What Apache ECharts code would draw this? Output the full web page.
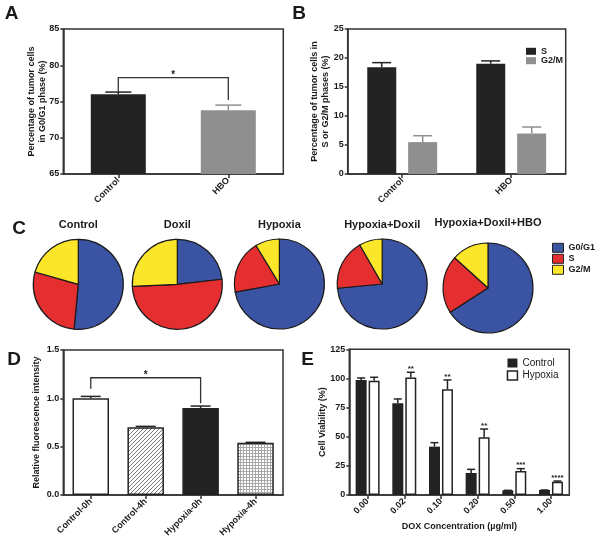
<!DOCTYPE html>
<html><head><meta charset="utf-8">
<script src="https://cdn.jsdelivr.net/npm/echarts@6/dist/echarts.min.js"></script>
<style>html,body{margin:0;padding:0;background:#fff}#c{width:600px;height:542px}</style>
</head><body><div id="c"></div>
<script>
// ---------------- DATA ----------------
const catsA = ['Control', 'HBO'];
const g0g1A = [76.0, 73.8];
const g0g1AErr = [76.3, 74.5];
const sigA = '*';

const catsB = ['Control', 'HBO'];
const sB = [18.4, 19.0];
const sBErr = [19.2, 19.5];
const g2mB = [5.5, 7.0];
const g2mBErr = [6.6, 8.1];

const pieTitles = ['Control', 'Doxil', 'Hypoxia', 'Hypoxia+Doxil', 'Hypoxia+Doxil+HBO'];
const phaseNames = ['G0/G1', 'S', 'G2/M'];
const pieG0G1 = [51.5, 23.2, 72.1, 73.5, 65.9];
const pieS = [27.9, 51.1, 19.2, 18.2, 20.8];
const pieG2M = [20.6, 25.7, 8.7, 8.3, 13.3];

const catsD = ['Control-0h', 'Control-4h', 'Hypoxia-0h', 'Hypoxia-4h'];
const fluorD = [1.00, 0.70, 0.90, 0.54];
const fluorDErr = [1.02, 0.71, 0.92, 0.545];
const sigD = '*';

const catsE = ['0.00', '0.02', '0.10', '0.20', '0.50', '1.00'];
const ctrlE = [98.7, 78.7, 41.5, 18.9, 4.0, 4.3];
const ctrlEErr = [100.4, 82.4, 44.9, 22.0, 4.0, 4.3];
const hypE = [98.1, 100.7, 90.7, 49.5, 20.6, 11.4];
const hypEErr = [101.0, 105.3, 98.7, 56.6, 22.6, 12.0];
const sigE = ['', '**', '**', '**', '***', '****'];

// ---------------- STYLE / LAYOUT ----------------
const FONT = '"Liberation Sans", Arial, Helvetica, sans-serif';
const INK = '#1a1a1a';
const AX = '#333333';
const BLACK = '#232323';
const GREY = '#8f8f8f';
const phaseColors = ['#3b53a3', '#e52e30', '#fbe62a'];
const pieCx = [78.3, 177.3, 279.4, 382.2, 488];
const pieCy = [284.3, 284.3, 284, 284, 288];
const pieTitleY = [225, 225, 225, 225, 223];

function makePattern(kind) {
  const c = document.createElement('canvas');
  const n = kind === 'diag' ? 4 : 3;
  c.width = n; c.height = n;
  const g = c.getContext('2d');
  g.fillStyle = '#ffffff'; g.fillRect(0, 0, n, n);
  if (kind === 'diag') {
    g.strokeStyle = '#666'; g.lineWidth = 0.9;
    g.beginPath();
    g.moveTo(-1, n + 1); g.lineTo(n + 1, -1);
    g.moveTo(-1, 1); g.lineTo(1, -1);
    g.moveTo(n - 1, n + 1); g.lineTo(n + 1, n - 1);
    g.stroke();
  } else {
    g.fillStyle = '#a8a8a8';
    g.fillRect(0, 0, n, 1);
    g.fillRect(0, 0, 1, n);
  }
  return c;
}

const chart = echarts.init(document.getElementById('c'), null, { renderer: 'canvas' });

function gridBox(left, top, width, height) {
  return { left, top, width, height, containLabel: false, show: true, borderColor: AX, borderWidth: 1.5, backgroundColor: 'transparent' };
}
function yAx(gi, min, max, interval, name, nameGap, fmt) {
  return {
    type: 'value', gridIndex: gi, min, max, interval,
    name, nameLocation: 'middle', nameGap, nameRotate: 90, nameMoveOverlap: false,
    nameTextStyle: { fontSize: 9, fontWeight: 'bold', color: INK, lineHeight: 11, fontFamily: FONT },
    axisLine: { show: true, lineStyle: { color: AX, width: 1.5 } },
    axisTick: { show: true, length: 3, lineStyle: { color: AX, width: 1.5 } },
    axisLabel: { fontSize: 9, fontWeight: 'bold', color: INK, margin: 4, fontFamily: FONT, formatter: fmt },
    splitLine: { show: false }
  };
}
function xAx(gi, data, name, nameGap) {
  const a = {
    type: 'category', gridIndex: gi, data,
    axisLine: { show: true, lineStyle: { color: AX, width: 1.5 } },
    axisTick: { show: true, alignWithLabel: true, length: 4, lineStyle: { color: AX, width: 1.5 } },
    axisLabel: { rotate: 45, interval: 0, fontSize: 9, fontWeight: 'bold', color: INK, margin: 5, fontFamily: FONT },
    splitLine: { show: false }
  };
  if (name) {
    a.name = name; a.nameLocation = 'middle'; a.nameGap = nameGap; a.nameMoveOverlap = false;
    a.nameTextStyle = { fontSize: 9, fontWeight: 'bold', color: INK, lineHeight: 11, fontFamily: FONT };
  }
  return a;
}
function errSeries(ai, vals, errs, offset, capW, colors, stars) {
  return {
    type: 'custom', xAxisIndex: ai, yAxisIndex: ai, silent: true, z: 5,
    data: vals.map((v, i) => [i, v, errs[i]]),
    encode: { x: 0, y: [1, 2] },
    renderItem: function (params, api) {
      const i = api.value(0);
      const b = api.coord([i, api.value(1)]);
      const t = api.coord([i, api.value(2)]);
      const cx = b[0] + offset;
      const col = Array.isArray(colors) ? colors[params.dataIndex] : colors;
      const ch = [
        { type: 'line', shape: { x1: cx, y1: b[1], x2: cx, y2: t[1] }, style: { stroke: col, lineWidth: 1.5 } },
        { type: 'line', shape: { x1: cx - capW / 2, y1: t[1], x2: cx + capW / 2, y2: t[1] }, style: { stroke: col, lineWidth: 1.5 } }
      ];
      if (stars && stars[params.dataIndex]) {
        ch.push({ type: 'text', style: { text: stars[params.dataIndex], x: cx, y: t[1] + 0.5, align: 'center', verticalAlign: 'bottom', fontSize: 8, fontWeight: 'bold', fontFamily: FONT, fill: INK } });
      }
      return { type: 'group', children: ch };
    }
  };
}
function bracketSeries(ai, data, star) {
  return {
    type: 'custom', xAxisIndex: ai, yAxisIndex: ai, silent: true, z: 6,
    data: [data], encode: { x: [0, 1], y: [2, 3, 4] },
    renderItem: function (params, api) {
      const l0 = api.coord([api.value(0), api.value(3)]);
      const lt = api.coord([api.value(0), api.value(2)]);
      const rt = api.coord([api.value(1), api.value(2)]);
      const r0 = api.coord([api.value(1), api.value(4)]);
      return { type: 'group', children: [
        { type: 'polyline', shape: { points: [l0, lt, rt, r0] }, style: { stroke: AX, lineWidth: 1.3, fill: null } },
        { type: 'text', style: { text: star, x: (lt[0] + rt[0]) / 2, y: lt[1] + 3, align: 'center', verticalAlign: 'bottom', fontSize: 10, fontWeight: 'bold', fontFamily: FONT, fill: INK } }
      ] };
    }
  };
}

const dStyles = [
  { color: '#ffffff' },
  { color: { image: makePattern('diag'), repeat: 'repeat' } },
  { color: BLACK },
  { color: { image: makePattern('grid'), repeat: 'repeat' } }
];

const series = [];
// A
series.push({ type: 'bar', name: 'A-G0/G1', xAxisIndex: 0, yAxisIndex: 0, barWidth: 55, silent: true,
  data: g0g1A.map((v, i) => ({ value: v, itemStyle: { color: i === 0 ? BLACK : GREY } })) });
series.push(errSeries(0, g0g1A, g0g1AErr, 0, 26, [BLACK, GREY]));
// B
series.push({ type: 'bar', name: 'S', xAxisIndex: 1, yAxisIndex: 1, barWidth: 29, barGap: '41%', itemStyle: { color: BLACK }, data: sB, silent: true });
series.push({ type: 'bar', name: 'G2/M', xAxisIndex: 1, yAxisIndex: 1, barWidth: 29, barGap: '41%', itemStyle: { color: GREY }, data: g2mB, silent: true });
series.push(errSeries(1, sB, sBErr, -20.5, 19, BLACK));
series.push(errSeries(1, g2mB, g2mBErr, 20.5, 19, GREY));
// D
series.push({ type: 'bar', name: 'D-fluor', xAxisIndex: 2, yAxisIndex: 2, barWidth: 36.5, silent: true,
  data: fluorD.map((v, i) => ({ value: v, itemStyle: Object.assign({ borderColor: BLACK, borderWidth: 1.5 }, dStyles[i]) })) });
series.push(errSeries(2, fluorD, fluorDErr, 0, 20, BLACK));
// E
series.push({ type: 'bar', name: 'Control', xAxisIndex: 3, yAxisIndex: 3, barWidth: 11, barGap: '18%', itemStyle: { color: BLACK }, data: ctrlE, silent: true });
series.push({ type: 'bar', name: 'Hypoxia', xAxisIndex: 3, yAxisIndex: 3, barWidth: 11, barGap: '18%', itemStyle: { color: '#ffffff', borderColor: BLACK, borderWidth: 1.5 }, data: hypE, silent: true });
series.push(errSeries(3, ctrlE, ctrlEErr, -6.5, 8, BLACK));
series.push(errSeries(3, hypE, hypEErr, 6.5, 8, BLACK, sigE));
// brackets
series.push(bracketSeries(0, [0, 1, 78.3, 76.35, 75.2], sigA));
series.push(bracketSeries(2, [0, 2, 1.213, 1.10, 0.948], sigD));

// C pies
pieTitles.forEach((t, i) => {
  const vals = [pieG0G1[i], pieS[i], pieG2M[i]];
  series.push({
    type: 'pie', name: 'pie-' + t, center: [pieCx[i], pieCy[i]], radius: 45,
    startAngle: 90, clockwise: true, silent: true,
    label: { show: false }, labelLine: { show: false },
    itemStyle: { borderColor: '#1a1a1a', borderWidth: 1.2 },
    emphasis: { disabled: true },
    data: phaseNames.map((n, j) => ({ name: n, value: vals[j], itemStyle: { color: phaseColors[j] } }))
  });
});

const letters = [
  { t: 'A', x: 11.5, y: 14 },
  { t: 'B', x: 299, y: 14 },
  { t: 'C', x: 19, y: 228.5 },
  { t: 'D', x: 14, y: 359.8 },
  { t: 'E', x: 307.5, y: 359.5 }
];
const graphic = letters.map(l => ({ type: 'text', x: l.x, y: l.y, silent: true,
  style: { text: l.t, align: 'center', verticalAlign: 'middle', fontSize: 19, fontWeight: 'bold', fontFamily: FONT, fill: INK } }));
pieTitles.forEach((t, i) => graphic.push({ type: 'text', x: pieCx[i], y: pieTitleY[i], silent: true,
  style: { text: t, align: 'center', verticalAlign: 'middle', fontSize: 11, fontWeight: 'bold', fontFamily: FONT, fill: INK } }));

const option = {
  animation: false,
  backgroundColor: '#ffffff',
  textStyle: { fontFamily: FONT },
  grid: [gridBox(63.3, 29, 220, 145), gridBox(347.7, 29, 218, 145), gridBox(63.3, 350, 219.7, 145), gridBox(349.3, 349.3, 220, 145.7)],
  xAxis: [xAx(0, catsA), xAx(1, catsB), xAx(2, catsD), xAx(3, catsE, 'DOX Concentration (µg/ml)', 26)],
  yAxis: [
    yAx(0, 65, 85, 5, 'Percentage of tumor cells\nin G0/G1 phase (%)', 15),
    yAx(1, 0, 25, 5, 'Percentage of tumor cells in\nS or G2/M phases (%)', 17),
    yAx(2, 0, 1.5, 0.5, 'Relative fluorescence intensity', 21, v => v.toFixed(1)),
    yAx(3, 0, 125, 25, 'Cell Viability (%)', 21)
  ],
  legend: [
    { orient: 'vertical', left: 526, top: 46.8, padding: 0, itemWidth: 10, itemHeight: 7, itemGap: 0.4, icon: 'rect', selectedMode: false,
      textStyle: { fontSize: 9, fontWeight: 'bold', color: INK, lineHeight: 9, fontFamily: FONT },
      data: [{ name: 'S', itemStyle: { color: BLACK, borderWidth: 0 } }, { name: 'G2/M', itemStyle: { color: GREY, borderWidth: 0 } }] },
    { orient: 'vertical', left: 552, top: 242.8, padding: 0, itemWidth: 11, itemHeight: 9, itemGap: 1, icon: 'rect', selectedMode: false,
      textStyle: { fontSize: 9, fontWeight: 'bold', color: INK, lineHeight: 9, fontFamily: FONT },
      data: phaseNames.map((n, j) => ({ name: n, itemStyle: { color: phaseColors[j], borderColor: '#222', borderWidth: 1 } })) },
    { orient: 'vertical', left: 506.7, top: 357.5, padding: 0, itemWidth: 10, itemHeight: 9, itemGap: 1.5, icon: 'rect', selectedMode: false,
      textStyle: { fontSize: 10, color: INK, lineHeight: 11, fontFamily: FONT },
      data: [{ name: 'Control', itemStyle: { color: BLACK, borderWidth: 0 } }, { name: 'Hypoxia', itemStyle: { color: '#ffffff', borderColor: BLACK, borderWidth: 1.5 } }] }
  ],
  graphic,
  series
};
chart.setOption(option);
</script>
</body></html>
